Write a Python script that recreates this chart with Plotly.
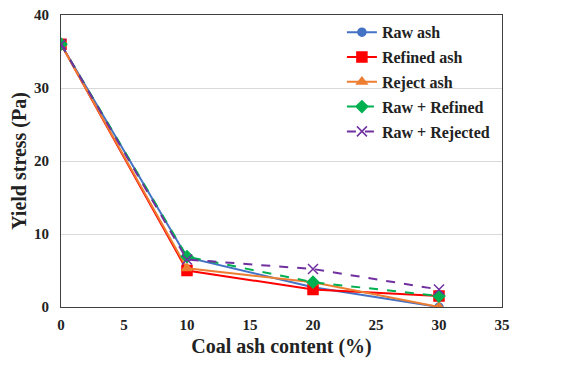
import plotly.graph_objects as go

x_content = [0, 10, 20, 30]
raw_ash = [36, 6.8, 2.7, 0.0]
refined_ash = [36, 5.0, 2.4, 1.5]
reject_ash = [36, 5.3, 3.4, 0.0]
raw_refined = [36, 6.9, 3.4, 1.5]
raw_rejected = [36, 6.5, 5.2, 2.4]

x_ticks = [0, 5, 10, 15, 20, 25, 30, 35]
y_ticks = [0, 10, 20, 30, 40]

series = [
    ("Raw ash", raw_ash, "#4472C4", "solid", "circle", 8),
    ("Refined ash", refined_ash, "#FF0000", "solid", "square", 10),
    ("Reject ash", reject_ash, "#ED7D31", "solid", "triangle-up", 9),
    ("Raw + Refined", raw_refined, "#00B050", "dash", "diamond", 9),
    ("Raw + Rejected", raw_rejected, "#7030A0", "dash", "x-thin-open", 10),
]

fig = go.Figure()
for i, (name, ys, color, dash, sym, size) in enumerate(series):
    fig.add_trace(go.Scatter(
        x=x_content, y=ys, name=f"<b>{name}</b>", mode="lines+markers",
        legendgroup=f"g{i}",
        line=dict(color=color, width=2, dash=dash),
        marker=dict(symbol=sym, size=size, color=color,
                    line=dict(color=color, width=1.5)),
    ))

ff = "Liberation Serif, serif"
fig.update_layout(
    width=575, height=361,
    margin=dict(l=53, r=81, t=7, b=62, autoexpand=False),
    paper_bgcolor="white", plot_bgcolor="white",
    font=dict(family=ff, color="#222222"),
    legend=dict(x=0.637, y=0.999, xanchor="left", yanchor="top",
                bgcolor="rgba(0,0,0,0)", borderwidth=0,
                font=dict(size=16, family=ff, color="#222222"),
                tracegroupgap=1, itemwidth=30),
    showlegend=True,
)
fig.update_xaxes(
    range=[0, 35], tickvals=x_ticks, ticktext=[f"<b>{v}</b>" for v in x_ticks],
    showgrid=False, zeroline=False,
    showline=True, linecolor="#404040", linewidth=1.2, mirror=True,
    ticks="", ticklabelstandoff=4, ticklabeloverflow="allow",
    tickfont=dict(size=15, family=ff),
    title=dict(text="<b>Coal ash content (%)</b>", standoff=6,
               font=dict(size=20, family=ff)),
)
fig.update_yaxes(
    range=[0, 40], tickvals=y_ticks, ticktext=[f"<b>{v}</b>" for v in y_ticks],
    showgrid=True, gridcolor="#D9D9D9",
    zeroline=False, showline=True, linecolor="#404040", linewidth=1.2, mirror=True,
    ticks="", ticklabelstandoff=8, ticklabeloverflow="allow",
    tickfont=dict(size=15, family=ff),
    title=dict(text="<b>Yield stress (Pa)</b>", standoff=6,
               font=dict(size=20, family=ff)),
)
fig.write_html("out.html")
